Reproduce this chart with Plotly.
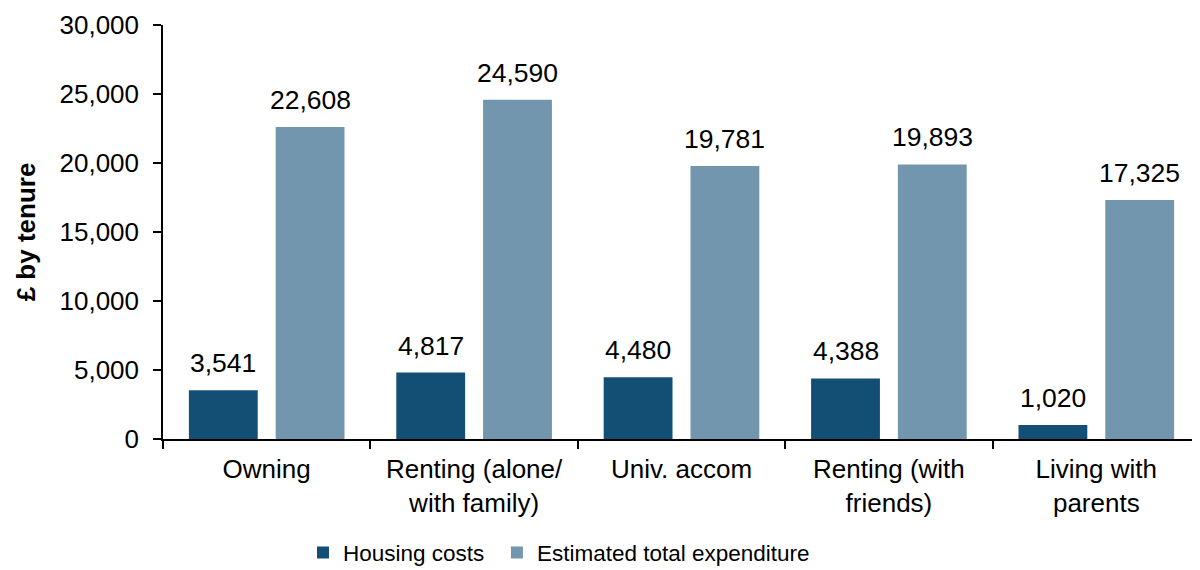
import plotly.graph_objects as go

categories = ["Owning", "Renting (alone/<br>with family)", "Univ. accom", "Renting (with<br>friends)", "Living with<br>parents"]
housing_costs = [3541, 4817, 4480, 4388, 1020]
total_expenditure = [22608, 24590, 19781, 19893, 17325]
series_names = ["Housing costs", "Estimated total expenditure"]
colors = ["#134F74", "#7296AE"]
y_ticks = [0, 5000, 10000, 15000, 20000, 25000, 30000]

FONT = "Arial, Liberation Sans, sans-serif"
bargap = 0.163
bargroupgap = 0.207

fig = go.Figure()
legend_refs = ["legend", "legend2"]
for name, vals, col, lg in zip(series_names, [housing_costs, total_expenditure], colors, legend_refs):
    fig.add_trace(go.Bar(x=categories, y=vals, name=name, marker_color=col,
                         marker_line_width=0, legend=lg))

slot = (1 - bargap) / 2
for k, vals in enumerate([housing_costs, total_expenditure]):
    off = (k - 0.5) * slot
    for i, v in enumerate(vals):
        fig.add_annotation(x=i + off, y=v, xref="x", yref="y", text=f"{v:,}",
                           showarrow=False, yanchor="bottom", yshift=10,
                           font=dict(family=FONT, size=26.5, color="#000000"))

legend_style = dict(orientation="h", xanchor="left", y=-0.275, yanchor="middle",
                    font=dict(family=FONT, size=22.5, color="#000000"),
                    bgcolor="rgba(0,0,0,0)")

fig.update_layout(
    width=1192, height=562,
    margin=dict(l=155, r=0, t=17, b=131, autoexpand=False),
    plot_bgcolor="white", paper_bgcolor="white",
    barmode="group", bargap=bargap, bargroupgap=bargroupgap,
    font=dict(family=FONT, size=26, color="#000000"),
    showlegend=True,
    legend=dict(x=0.135, **legend_style),
    legend2=dict(x=0.322, **legend_style),
)
fig.update_xaxes(
    type="category", range=[-0.5, 4.5], automargin=False,
    showline=True, linecolor="#000000", linewidth=2,
    ticks="outside", tickson="boundaries", ticklen=8, tickwidth=1.5, tickcolor="#000000",
    ticklabelstandoff=6,
    tickfont=dict(family=FONT, size=26, color="#000000"),
    showgrid=False,
)
fig.update_yaxes(
    range=[0, 30000], tickvals=y_ticks, ticktext=[f"{t:,}" for t in y_ticks],
    automargin=False,
    showline=True, linecolor="#000000", linewidth=1.5,
    ticks="outside", ticklen=8, tickwidth=1.5, tickcolor="#000000",
    ticklabelstandoff=9,
    tickfont=dict(family=FONT, size=26, color="#000000"),
    showgrid=False, zeroline=False,
    title=dict(text="<b>£ by tenure</b>", font=dict(family=FONT, size=26, color="#000000"), standoff=16),
)

fig.write_html("out.html")
